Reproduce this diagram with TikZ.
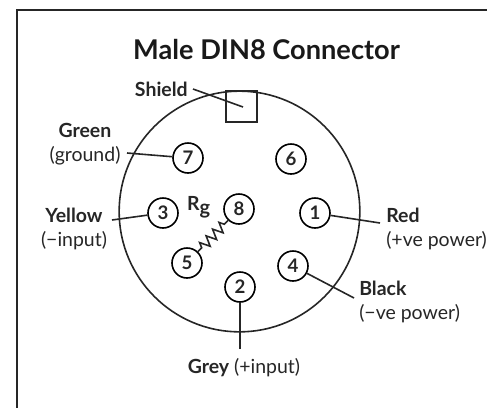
\documentclass[tikz,border=0pt]{standalone}
\usepackage{fontspec}
\setmainfont{Lato}
\usetikzlibrary{decorations.pathmorphing}

\begin{document}
\begin{tikzpicture}[x=0.75pt, y=-0.75pt,
    pin/.style={circle, draw, line width=1.2pt, inner sep=0pt, minimum size=22.5pt, font=\fontsize{14}{14}\selectfont\bfseries, text=black!85},
    title/.style={font=\fontsize{20.4}{22}\selectfont\bfseries, text=black!90},
    wirelabel/.style={font=\fontsize{14.6}{18}\selectfont, text=black!85, align=center},
    wire/.style={line width=1.2pt, black!85}]

\useasboundingbox (0,0) rectangle (487,408);

% Frame
\draw[line width=1.7pt, black!85] (17,408) -- (17,10) -- (487,10);

\node[title] (heading) at (266.5,50) {Male DIN8 Connector};

% Shell and key
\node[circle, draw, line width=1.2pt, black!85, minimum size=180.5pt, inner sep=0pt] (shell) at (239.5,211.5) {};
\node[draw, line width=1.1pt, black!85, minimum width=23pt, minimum height=23pt, inner sep=0pt] (key) at (241.5,106.5) {};

% Pins
\node[pin] (pin1) at (315,213) {1};
\node[pin] (pin2) at (240,287) {2};
\node[pin] (pin3) at (163,213) {3};
\node[pin] (pin4) at (293,266) {4};
\node[pin] (pin5) at (187,263) {5};
\node[pin] (pin6) at (291,159) {6};
\node[pin] (pin7) at (188,158) {7};
\node[pin] (pin8) at (239,209) {8};

% Labels
\node[wirelabel, anchor=east, inner sep=0pt] (shield) at (188,89) {\textbf{Shield}};
\node[wirelabel, anchor=north, inner sep=0pt] (green) at (85,123) {\textbf{Green}\\(ground)};
\node[wirelabel, anchor=north, inner sep=0pt] (yellow) at (74,208) {\textbf{Yellow}\\(−input)};
\node[wirelabel, anchor=north west, align=left, inner sep=0pt] (red) at (386,208) {\textbf{Red}\\(+ve power)};
\node[wirelabel, anchor=north west, align=left, inner sep=0pt] (black) at (359,281) {\textbf{Black}\\(−ve power)};
\node[wirelabel, anchor=north, inner sep=0pt] (grey) at (244,358) {\textbf{Grey} (+input)};
\node[wirelabel, anchor=center, inner sep=0pt] (rg) at (199,207) {\textbf{R\textsubscript{\fontsize{15}{15}\selectfont g}}};

% Free ends
\coordinate (shieldend) at (193,89);
\coordinate (shieldtip) at (243,107);
\coordinate (greenend) at (127,153);
\coordinate (yellowend) at (112,220);
\coordinate (redend) at (380,223);
\coordinate (blackend) at (354,298);
\coordinate (greyend) at (240,349);

% Connections
\draw[wire] (shieldend) -- (shieldtip);
\draw[wire] (greenend) -- (pin7);
\draw[wire] (yellowend) -- (pin3);
\draw[wire] (redend) -- (pin1);
\draw[wire] (blackend) -- (pin4);
\draw[wire] (greyend) -- (pin2);
\draw[wire, decorate, decoration={zigzag, segment length=7pt, amplitude=3.8pt, pre=lineto, pre length=4pt, post=lineto, post length=1pt}] (pin5) -- (pin8);

\end{tikzpicture}
\end{document}
